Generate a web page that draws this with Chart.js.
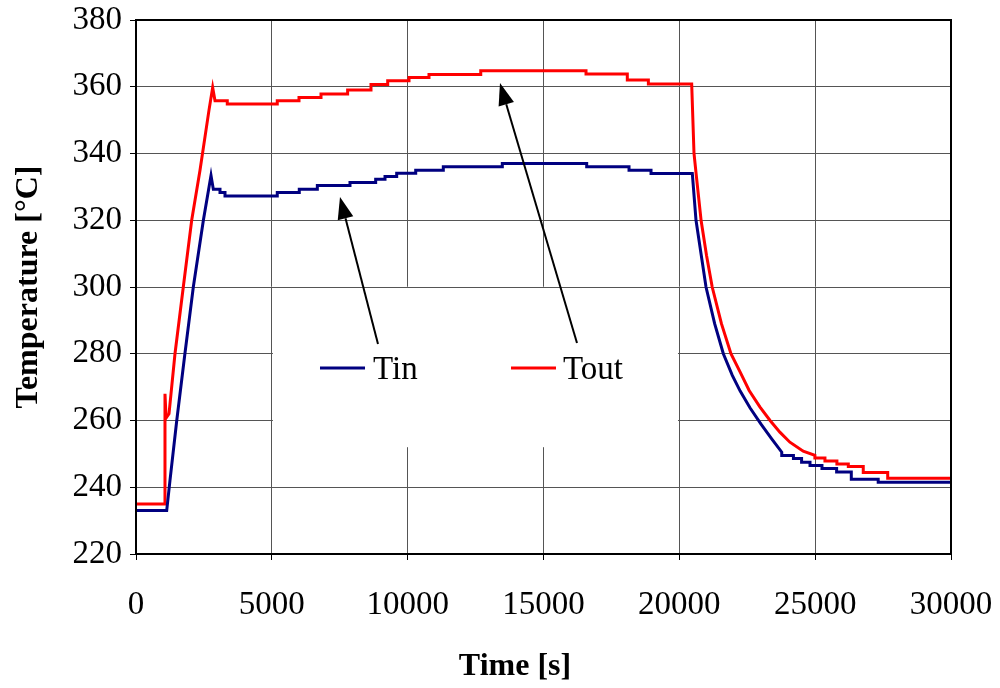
<!DOCTYPE html>
<html>
<head>
<meta charset="utf-8">
<script src="https://cdn.jsdelivr.net/npm/chart.js@4"></script>
<style>
  body { margin: 0; background: #fff; }
  canvas { display: block; }
</style>
</head>
<body>
<canvas id="tempChart" width="1000" height="688"></canvas>
<script>
// time [s] and temperature [°C]
const tinTime = [0, 1130, 1250, 1500, 1800, 2110, 2480, 2761, 2846, 3092, 3092, 3276, 3276, 5200, 5200, 6010, 6010, 6675, 6675, 7877, 7877, 8822, 8822, 9166, 9166, 9596, 9596, 10296, 10296, 11312, 11312, 13484, 13484, 16590, 16590, 18148, 18148, 18958, 18958, 20478, 20614, 20982, 21300, 21620, 21950, 22240, 22600, 23000, 23400, 23770, 23770, 24200, 24200, 24500, 24500, 24810, 24810, 25250, 25250, 25790, 25790, 26330, 26330, 27320, 27320, 30000];
const tinTemp = [233, 233, 242, 260, 280, 300, 320, 333.4, 329.3, 329.3, 328.3, 328.3, 327.3, 327.3, 328.3, 328.3, 329.3, 329.3, 330.4, 330.4, 331.3, 331.3, 332.3, 332.3, 333.1, 333.1, 334.1, 334.1, 335, 335, 336, 336, 337, 337, 336, 336, 335, 335, 334, 334, 320, 300, 289, 280, 273.5, 268.8, 263.8, 259, 254.5, 250.5, 249.5, 249.5, 248.6, 248.6, 247.5, 247.5, 246.5, 246.5, 245.6, 245.6, 244.6, 244.6, 242.4, 242.4, 241.5, 241.5];

const toutTime = [0, 1031, 1067, 1100, 1130, 1215, 1435, 1741, 2050, 2356, 2687, 2822, 2908, 3360, 3360, 5200, 5200, 6000, 6000, 6810, 6810, 7790, 7790, 8650, 8650, 9265, 9265, 10050, 10050, 10785, 10785, 12690, 12690, 16565, 16565, 18085, 18085, 18860, 18860, 20455, 20540, 20630, 20800, 21000, 21210, 21550, 21900, 22240, 22570, 22970, 23340, 23700, 24070, 24560, 24990, 24990, 25360, 25360, 25800, 25800, 26220, 26220, 26770, 26770, 27670, 27670, 30000];
const toutTemp = [235, 235, 268, 262, 261, 262, 280, 300, 320, 335, 353, 359.8, 355.8, 355.8, 354.8, 354.8, 355.8, 355.8, 356.8, 356.8, 357.8, 357.8, 359, 359, 360.7, 360.7, 361.8, 361.8, 362.8, 362.8, 363.7, 363.7, 364.8, 364.8, 363.8, 363.8, 362, 362, 360.8, 360.8, 340, 333, 320, 309.5, 300, 289, 280, 274.5, 269, 264, 260, 256.5, 253.5, 250.8, 249.6, 248.8, 248.8, 247.9, 247.9, 247, 247, 246.2, 246.2, 244.4, 244.4, 242.7, 242.7];

const xTicks = [0, 5000, 10000, 15000, 20000, 25000, 30000];
const yTicks = [220, 240, 260, 280, 300, 320, 340, 360, 380];

const seriesNames = ['Tin', 'Tout'];
const seriesColors = ['#000080', '#ff0000'];
const xTitle = 'Time [s]';

const FONT = "'Liberation Serif', 'Times New Roman', serif";

function toPoints(xs, ys) {
    return xs.map((x, i) => ({ x: x, y: ys[i] }));
}

// legend box and arrows, placed in data units
const legendBox = { x0: 5040, x1: 19950, y0: 252, y1: 299.7 };
const legendItems = [
    { lineX0: 6773, lineX1: 8430, textX: 8724, y: 275.7 },
    { lineX0: 13804, lineX1: 15460, textX: 15718, y: 275.7 }
];
const arrows = [
    { from: [8908, 282.9], to: [7509, 327.0] },
    { from: [16233, 283.2], to: [13399, 361.1] }
];

const decorPlugin = {
    id: 'decor',
    beforeDatasetsDraw(chart) {
        const { ctx, scales: { x, y } } = chart;
        ctx.save();
        ctx.fillStyle = '#fff';
        const l = x.getPixelForValue(legendBox.x0), r = x.getPixelForValue(legendBox.x1);
        const t = y.getPixelForValue(legendBox.y1), b = y.getPixelForValue(legendBox.y0);
        ctx.fillRect(l, t, r - l, b - t);
        ctx.restore();
    },
    afterDatasetsDraw(chart) {
        const { ctx, chartArea, scales: { x, y } } = chart;
        ctx.save();
        // legend
        legendItems.forEach((it, i) => {
            const py = y.getPixelForValue(it.y);
            ctx.strokeStyle = seriesColors[i];
            ctx.lineWidth = 3;
            ctx.beginPath();
            ctx.moveTo(x.getPixelForValue(it.lineX0), py);
            ctx.lineTo(x.getPixelForValue(it.lineX1), py);
            ctx.stroke();
            ctx.fillStyle = '#000';
            ctx.font = '33px ' + FONT;
            ctx.textBaseline = 'middle';
            ctx.textAlign = 'left';
            ctx.fillText(seriesNames[i], x.getPixelForValue(it.textX), py + 2);
        });
        // arrows
        arrows.forEach(a => {
            const x0 = x.getPixelForValue(a.from[0]), y0 = y.getPixelForValue(a.from[1]);
            const x1 = x.getPixelForValue(a.to[0]), y1 = y.getPixelForValue(a.to[1]);
            const ang = Math.atan2(y1 - y0, x1 - x0);
            const len = 22, half = 8;
            const bx = x1 - len * Math.cos(ang), by = y1 - len * Math.sin(ang);
            ctx.strokeStyle = '#000';
            ctx.lineWidth = 2;
            ctx.beginPath();
            ctx.moveTo(x0, y0);
            ctx.lineTo(bx, by);
            ctx.stroke();
            ctx.fillStyle = '#000';
            ctx.beginPath();
            ctx.moveTo(x1, y1);
            ctx.lineTo(bx + half * Math.sin(ang), by - half * Math.cos(ang));
            ctx.lineTo(bx - half * Math.sin(ang), by + half * Math.cos(ang));
            ctx.closePath();
            ctx.fill();
        });
        // frame
        ctx.strokeStyle = '#000';
        ctx.lineWidth = 2;
        ctx.strokeRect(chartArea.left, chartArea.top, chartArea.right - chartArea.left, chartArea.bottom - chartArea.top);
        // x axis title, a bit left of the plot centre like the original
        ctx.fillStyle = '#000';
        ctx.font = 'bold 32px ' + FONT;
        ctx.textAlign = 'center';
        ctx.textBaseline = 'middle';
        ctx.fillText(xTitle, chart.width / 2 + 15, chart.height - 21);
        ctx.restore();
    }
};

const ctx = document.getElementById('tempChart').getContext('2d');
new Chart(ctx, {
    type: 'line',
    data: {
        datasets: [
            {
                label: seriesNames[0],
                data: toPoints(tinTime, tinTemp),
                borderColor: seriesColors[0],
                borderWidth: 3,
                pointRadius: 0,
                tension: 0
            },
            {
                label: seriesNames[1],
                data: toPoints(toutTime, toutTemp),
                borderColor: seriesColors[1],
                borderWidth: 3,
                pointRadius: 0,
                tension: 0
            }
        ]
    },
    options: {
        responsive: false,
        animation: false,
        layout: { padding: { left: 0, top: 20, right: 49, bottom: 0 } },
        plugins: {
            legend: { display: false },
            tooltip: { enabled: false }
        },
        scales: {
            x: {
                type: 'linear',
                min: 0,
                max: 30000,
                afterBuildTicks: s => { s.ticks = xTicks.map(v => ({ value: v })); },
                afterFit: s => { s.height = 134; s.paddingLeft = 0; s.paddingRight = 0; },
                ticks: {
                    color: '#000',
                    font: { family: FONT, size: 33 },
                    padding: 26,
                    maxRotation: 0,
                    callback: v => String(v)
                },
                grid: { color: '#555', lineWidth: 1, tickLength: 6, tickColor: '#000' },
                border: { display: true, color: '#000', width: 2 },
                title: { display: false }
            },
            y: {
                min: 220,
                max: 380,
                afterBuildTicks: s => { s.ticks = yTicks.map(v => ({ value: v })); },
                afterFit: s => { s.width = 136; s.paddingTop = 0; s.paddingBottom = 0; },
                ticks: {
                    color: '#000',
                    font: { family: FONT, size: 33 },
                    padding: 8
                },
                grid: { color: '#555', lineWidth: 1, tickLength: 6, tickColor: '#000' },
                border: { display: true, color: '#000', width: 2 },
                title: {
                    display: true,
                    text: 'Temperature [°C]',
                    color: '#000',
                    font: { family: FONT, size: 32, weight: 'bold' },
                    padding: { top: 10, bottom: 0 }
                }
            }
        }
    },
    plugins: [decorPlugin]
});
</script>
</body>
</html>
